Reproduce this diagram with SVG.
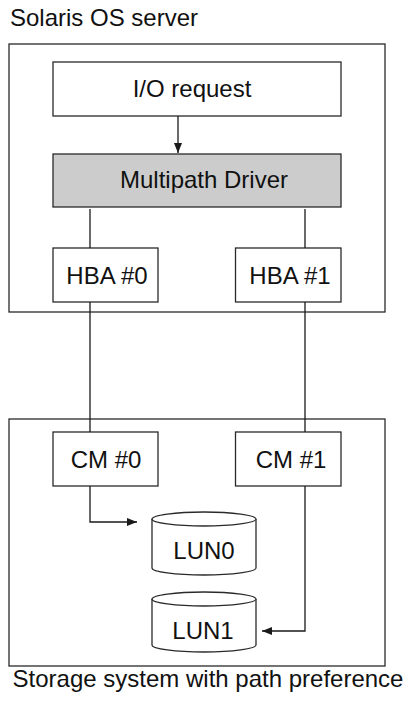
<svg xmlns="http://www.w3.org/2000/svg" width="414" height="702" viewBox="0 0 414 702">
  <defs>
    <marker id="arrow" viewBox="0 0 10 8" refX="10" refY="4" markerWidth="10" markerHeight="8" markerUnits="userSpaceOnUse" orient="auto">
      <path d="M0,0 L10,4 L0,8 Z" fill="#1a1a1a"/>
    </marker>
  </defs>
  <style>
    .frame { fill: #ffffff; stroke: #2a2a2a; stroke-width: 1.3; }
    .box { fill: #ffffff; stroke: #2a2a2a; stroke-width: 1.3; }
    .driver { fill: #cccccc; stroke: #2a2a2a; stroke-width: 1.3; }
    .disk { fill: #ffffff; stroke: #2a2a2a; stroke-width: 1.3; }
    .wire { fill: none; stroke: #1a1a1a; stroke-width: 1.3; }
    .label { font-family: "Liberation Sans", Arial, sans-serif; font-size: 24px; fill: #111111; }
    .mid { text-anchor: middle; }
  </style>
  <rect width="414" height="702" fill="#ffffff"/>

  <!-- host enclosure -->
  <g id="server">
    <rect class="frame" x="9" y="44" width="376" height="268"/>
    <text class="label" x="10" y="26">Solaris OS server</text>
  </g>

  <!-- array enclosure -->
  <g id="storage">
    <rect class="frame" x="9" y="419" width="376" height="247"/>
    <text class="label mid" x="208" y="687">Storage system with path preference</text>
  </g>

  <g id="io-request">
    <rect class="box" x="53" y="62" width="288" height="54"/>
    <text class="label mid" x="192" y="97">I/O request</text>
  </g>

  <g id="multipath-driver">
    <rect class="driver" x="53" y="154" width="288" height="53"/>
    <text class="label mid" x="204" y="188">Multipath Driver</text>
  </g>

  <g id="hba0">
    <rect class="box" x="53" y="248" width="105" height="54"/>
    <text class="label mid" x="107" y="284">HBA #0</text>
  </g>

  <g id="hba1">
    <rect class="box" x="235.5" y="248" width="105.5" height="54"/>
    <text class="label mid" x="290" y="284">HBA #1</text>
  </g>

  <g id="cm0">
    <rect class="box" x="53" y="432" width="105" height="54"/>
    <text class="label mid" x="106" y="468">CM #0</text>
  </g>

  <g id="cm1">
    <rect class="box" x="235.5" y="432" width="105.5" height="54"/>
    <text class="label mid" x="291" y="468">CM #1</text>
  </g>

  <g id="lun0">
    <path class="disk" d="M152,519 A52,7 0 0 1 256,519 L256,568 A52,7 0 0 1 152,568 Z"/>
    <path class="disk" d="M152,519 A52,7 0 0 0 256,519" fill="none"/>
    <text class="label mid" x="204" y="559">LUN0</text>
  </g>

  <g id="lun1">
    <path class="disk" d="M152,599 A52,7 0 0 1 256,599 L256,645 A52,7 0 0 1 152,645 Z"/>
    <path class="disk" d="M152,599 A52,7 0 0 0 256,599" fill="none"/>
    <text class="label mid" x="203" y="639">LUN1</text>
  </g>

  <!-- paths -->
  <g id="connectors">
    <path class="wire" d="M178,116 L178,153" marker-end="url(#arrow)"/>
    <path class="wire" d="M90,209 L90,248"/>
    <path class="wire" d="M305,209 L305,248"/>
    <path class="wire" d="M90,302 L90,432"/>
    <path class="wire" d="M305,302 L305,432"/>
    <path class="wire" d="M90,486 L90,522 L137,522" marker-end="url(#arrow)"/>
    <path class="wire" d="M305,486 L305,631 L262,631" marker-end="url(#arrow)"/>
  </g>
</svg>
